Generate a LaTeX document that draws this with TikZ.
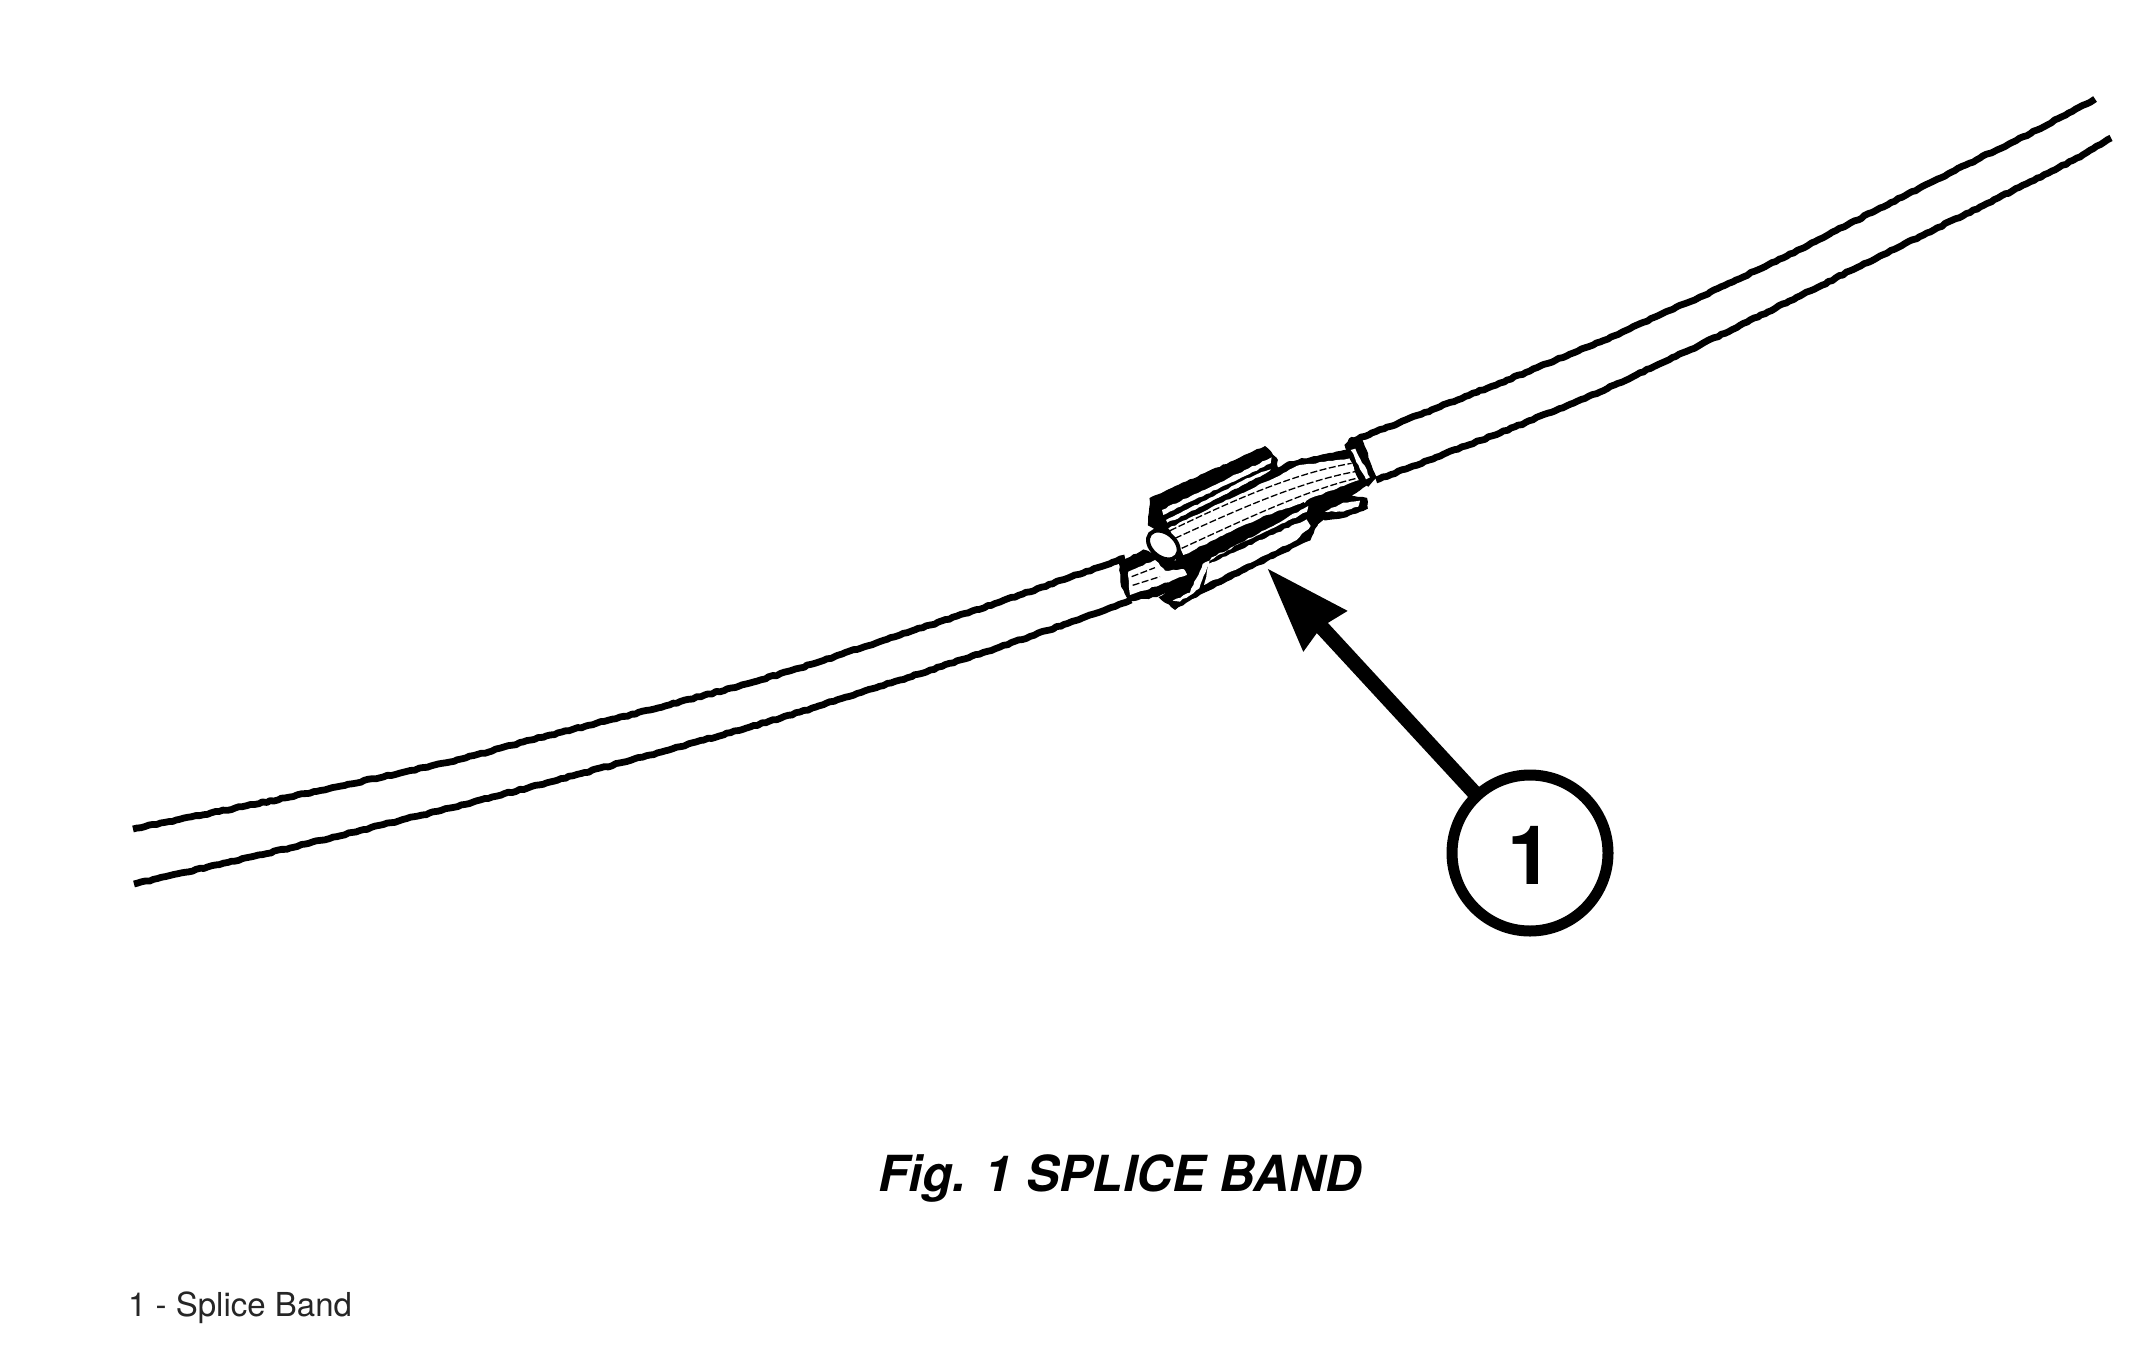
\documentclass[tikz,border=0pt]{standalone}
\usepackage{fontspec}
\setmainfont{TeX Gyre Heros}
\usetikzlibrary{arrows.meta,decorations.pathmorphing}
\pgfmathsetseed{7}
\tikzset{
  rough/.style={decorate,decoration={random steps,segment length=4pt,amplitude=0.7pt}},
  cable/.style={draw=black,line width=6.8pt,line join=round,rough},
  blackpart/.style={fill=black,draw=black,line width=1pt,rough},
  whitepart/.style={fill=white,draw=none,rough},
  strand/.style={draw=black,line width=1.3pt,dash pattern=on 7pt off 2.5pt},
  callout/.style={circle,draw=black,line width=11pt,minimum size=156pt,inner sep=0pt,outer sep=0pt,fill=white},
  leader/.style={draw=black,line width=15pt,-{Stealth[length=84pt,width=56pt,inset=4pt]}},
}
\begin{document}
\begin{tikzpicture}[x=1pt,y=-1pt]
\useasboundingbox[fill=white] (0,0) rectangle (2143,1357);
% cables
\draw[cable] (133,829) -- (290,797) -- (450,762) -- (550,735) -- (650,710) -- (750,683) -- (800,668) -- (900,635) -- (1000,602) -- (1125,558);
\draw[cable] (134,884) -- (290,848) -- (450,808) -- (550,782) -- (650,755) -- (750,727) -- (800,712) -- (900,680) -- (1000,647) -- (1100,612) -- (1131,600);
\draw[cable] (1350,442) -- (1500,383) -- (1600,342) -- (1700,297) -- (1783,258) -- (1880,208) -- (1980,158) -- (2037,130) -- (2095,99);
\draw[cable] (1376,480) -- (1500,433) -- (1600,392) -- (1700,345) -- (1800,296) -- (1880,256) -- (1980,207) -- (2080,157) -- (2111,138);
% splice, in the coordinates of the enlarged crop
\begin{scope}[shift={(1080pt,-400pt)},x=0.3333pt,y=-0.3333pt]
  % left stub
  \path[blackpart] (118,490) -- (190,450) -- (340,500) -- (345,540) -- (230,590) -- (150,602) -- (125,560) -- cycle;
  \path[whitepart] (145,515) -- (225,480) -- (255,512) -- (325,508) -- (320,525) -- (240,555) -- (150,585) -- cycle;
  \draw[strand] (155,530) -- (225,503);
  \draw[strand] (158,556) -- (240,530);
  % top flap
  \path[blackpart] (210,295) -- (510,160) -- (555,140) -- (592,180) -- (590,220) -- (240,395) -- (205,375) -- cycle;
  \path[whitepart] (246,330) -- (575,172) -- (572,190) -- (250,345) -- cycle;
  \path[whitepart] (258,360) -- (380,300) -- (500,235) -- (572,208) -- (568,222) -- (500,250) -- (370,320) -- (262,368) -- cycle;
  % main wire bundle
  \path[blackpart] (240,385) -- (630,185) -- (800,150) -- (875,240) -- (715,370) -- (300,500) -- cycle;
  \path[whitepart] (265,385) -- (620,215) -- (650,198) -- (810,175) -- (838,240) -- (690,295) -- (675,308) -- (560,345) -- (400,420) -- (310,465) -- cycle;
  \draw[strand] (270,392) .. controls (450,305) and (640,220) .. (815,190);
  \draw[strand] (285,415) .. controls (470,330) and (660,245) .. (825,215);
  \draw[strand] (305,445) .. controls (490,360) and (680,270) .. (830,235);
  % lower band
  \path[blackpart] (300,490) -- (670,308) -- (715,365) -- (690,420) -- (370,578) -- (285,628) -- (238,592) -- (330,530) -- cycle;
  \path[whitepart] (372,555) -- (385,492) -- (680,358) -- (692,378) -- (650,420) -- cycle;
  \path[whitepart] (278,602) -- (330,578) -- (368,492) -- (685,318) -- (680,336) -- (395,472) -- (358,565) -- (300,605) -- cycle;
  % right loop
  \path[blackpart] (700,320) -- (800,285) -- (860,295) -- (862,325) -- (800,350) -- (735,360) -- cycle;
  \path[whitepart] (735,335) -- (790,308) -- (840,302) -- (835,320) -- (790,335) -- cycle;
  % end of the bundle
  \path[draw=black,line width=4pt,fill=white] (250,435) ellipse [x radius=52,y radius=36,rotate=-40];
  % collar at the right
  \path[blackpart] (795,135) -- (815,112) -- (845,118) -- (888,232) -- (865,258) -- (840,245) -- cycle;
  \path[whitepart] (812,150) -- (826,146) -- (870,232) -- (858,238) -- cycle;
\end{scope}
% callout
\node[callout] (c1) at (1530,853) {};
\node[font=\fontsize{82pt}{82pt}\selectfont\bfseries,inner sep=0pt] (n1) at (1530,855) {1};
\coordinate (tip) at (1267,568);
\draw[leader] (c1) -- (tip);
% texts
\node[anchor=base west,inner sep=0pt,font=\fontsize{49.7pt}{49.7pt}\selectfont\bfseries\itshape] (caption) at (878,1191) {Fig. 1 SPLICE BAND};
\node[anchor=base west,inner sep=0pt,text=black!85,font=\fontsize{33pt}{33pt}\selectfont] (legend) at (128,1316.5) {1 - Splice Band};
\end{tikzpicture}
\end{document}
